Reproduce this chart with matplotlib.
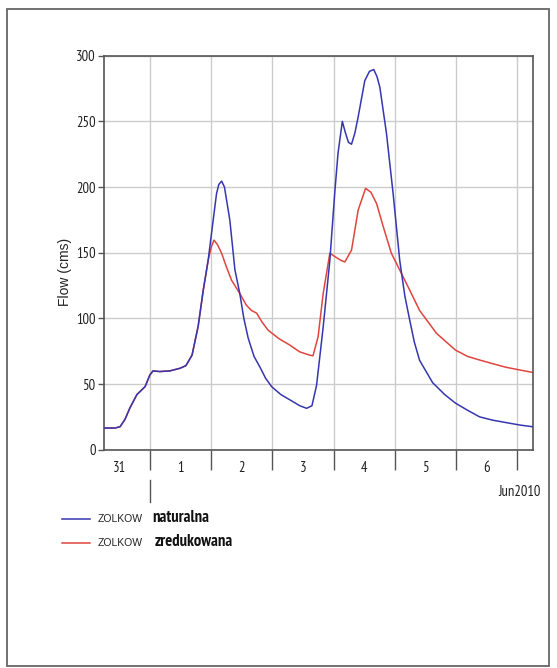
import matplotlib
matplotlib.use('Agg')
import matplotlib.pyplot as plt
import matplotlib.dates as mdates
from matplotlib.lines import Line2D
from matplotlib.patches import Rectangle
import numpy as np

# hydrograph ZOLKOW, 31 May - 7 Jun 2010
start = np.datetime64('2010-05-31T00:00')

# hours since 31 May 00:00 / flow in cms
hours_nat = [6.0, 10.3, 12.3, 14.2, 16.2, 18.9, 22.1, 24.0, 25.2, 27.9, 31.8, 35.8, 38.1,
             40.5, 42.9, 44.9, 46.8, 48.8, 50.1, 51.0, 52.1, 53.2, 55.3, 57.3, 59.2,
             60.8, 62.5, 64.8, 67.1, 69.3, 71.7, 75.3, 78.8, 82.7, 85.4, 87.5, 89.3,
             91.9, 94.5, 96.4, 97.7, 99.4, 100.5, 101.8, 103.0, 104.3, 105.6, 108.2,
             110.0, 111.7, 113.0, 114.1, 116.7, 119.3, 121.9, 123.9, 125.8, 127.6,
             129.7, 134.8, 139.5, 143.7, 148.5, 153.2, 158.3, 163.7, 168.9, 173.9]
flow_nat = [16.5, 16.5, 17.5, 23, 32, 42, 48, 57, 60, 59.5, 60, 62, 64,
            72, 94, 121.5, 144, 175, 195, 202, 204.5, 200, 175, 137, 119,
            100, 85, 71, 63, 54.5, 48, 42, 38, 33.5, 31.5, 33.5, 49,
            93.6, 144, 195, 225.6, 250, 242, 234, 232.6, 241, 253.4, 281,
            288, 289.5, 284, 276, 240.8, 195, 144, 117, 98.7, 82,
            68, 51, 42, 35.5, 30, 25, 22.5, 20.6, 18.8, 17.5]

hours_red = [6.0, 10.3, 12.3, 14.2, 16.2, 18.9, 22.1, 24.0, 25.2, 27.9, 31.8, 35.8, 38.1,
             40.5, 42.9, 44.9, 46.8, 48.0, 49.1, 50.5, 52.1, 54.0, 56.0, 59.2, 61.8,
             63.8, 65.8, 68.0, 70.3, 74.6, 78.8, 82.7, 86.6, 87.9, 89.9, 91.9, 94.5,
             96.9, 99.0, 100.4, 103.0, 105.6, 108.5, 110.6, 112.8, 115.4, 118.6,
             121.9, 125.8, 129.7, 136.3, 143.7, 148.5, 153.2, 158.3, 163.7, 168.9, 173.9]
flow_red = [16.5, 16.5, 17.5, 23, 32, 42, 48, 57, 60, 59.5, 60, 62, 64,
            72, 94, 121.5, 144, 154, 159.6, 156, 149.5, 139, 129, 119, 110,
            106, 104, 97, 91, 84.5, 79.7, 74.5, 72, 71.5, 86, 119, 149.6,
            146.5, 144, 143, 152, 182.4, 199, 196, 187.5, 170, 149.6,
            136.8, 121.5, 106, 88.6, 75.9, 71, 68.3, 65.5, 62.7, 60.7, 58.9]

station = 'ZOLKOW'
series_names = ['naturalna', 'zredukowana']
series_colors = ['#3636b0', '#e0453f']

x_start = start + np.timedelta64(6, 'h')
x_end = start + np.timedelta64(174, 'h')


def to_time(hours):
    return start + (np.array(hours) * 60).astype('timedelta64[m]')


narrow = ['PT Sans Narrow', 'DejaVu Sans']
regular = ['Liberation Sans', 'DejaVu Sans']
spine_col = '#555555'

fig = plt.figure(figsize=(5.57, 6.68), dpi=100)
ax = fig.add_axes([104 / 557, 1 - 449.7 / 668, 428.7 / 557, 394 / 668])

ax.plot(to_time(hours_nat), flow_nat, color=series_colors[0], lw=1.1, zorder=3)
ax.plot(to_time(hours_red), flow_red, color=series_colors[1], lw=1.1, zorder=2)

ax.set_xlim(x_start, x_end)
ax.set_ylim(0, 300)
ax.set_yticks(np.arange(0, 301, 50))

# days: ticks at midnight, labels at noon
ax.xaxis.set_major_locator(mdates.DayLocator())
ax.xaxis.set_major_formatter(plt.NullFormatter())
ax.xaxis.set_minor_locator(mdates.HourLocator(byhour=12))
ax.xaxis.set_minor_formatter(plt.FuncFormatter(lambda v, p: str(mdates.num2date(v).day)))
ax.tick_params(axis='x', which='major', length=14.5, width=1, color=spine_col)
ax.tick_params(axis='x', which='minor', length=0, pad=8)
ax.tick_params(axis='y', length=4.5, width=1, color=spine_col, pad=1.5)
for lab in ax.get_xticklabels(minor=True) + ax.get_yticklabels():
    lab.set_family(narrow)
    lab.set_fontsize(10.5)
    lab.set_color('#222222')

ax.grid(True, which='major', color='#cccccc', lw=1)
for s in ax.spines.values():
    s.set_color(spine_col)
    s.set_linewidth(1.2)

ax.set_ylabel('Flow (cms)', fontsize=10, family=regular, color='#222222')
ax.yaxis.set_label_coords(-0.075, 0.45)

# month marker
jun1 = mdates.date2num(start + np.timedelta64(1, 'D'))
ax.plot([jun1, jun1], [-0.077, -0.133], transform=ax.get_xaxis_transform(),
        color=spine_col, lw=1, clip_on=False)
fig.text(541 / 557, 1 - 492 / 668, 'Jun2010', ha='right', va='center',
         fontsize=10.5, family=narrow, color='#222222')

# legend
for i, (name, col) in enumerate(zip(series_names, series_colors)):
    y = 1 - (518.5 + 24 * i) / 668
    fig.add_artist(Line2D([62 / 557, 90 / 557], [y, y], color=col, lw=1.1))
    fig.text(98 / 557, y, station, ha='left', va='center', fontsize=7.5,
             family=regular, color='#222222')
    fig.text((152 + 3 * i) / 557, y + 1 / 668, name, ha='left', va='center',
             fontsize=12, family=narrow, fontweight='bold', color='#111111')

# outer frame
fig.add_artist(Rectangle((7 / 557, 2 / 668), 542 / 557, 657 / 668,
                         transform=fig.transFigure, fill=False,
                         edgecolor='#666666', lw=1.3))

fig.savefig('out.png', dpi=100)
